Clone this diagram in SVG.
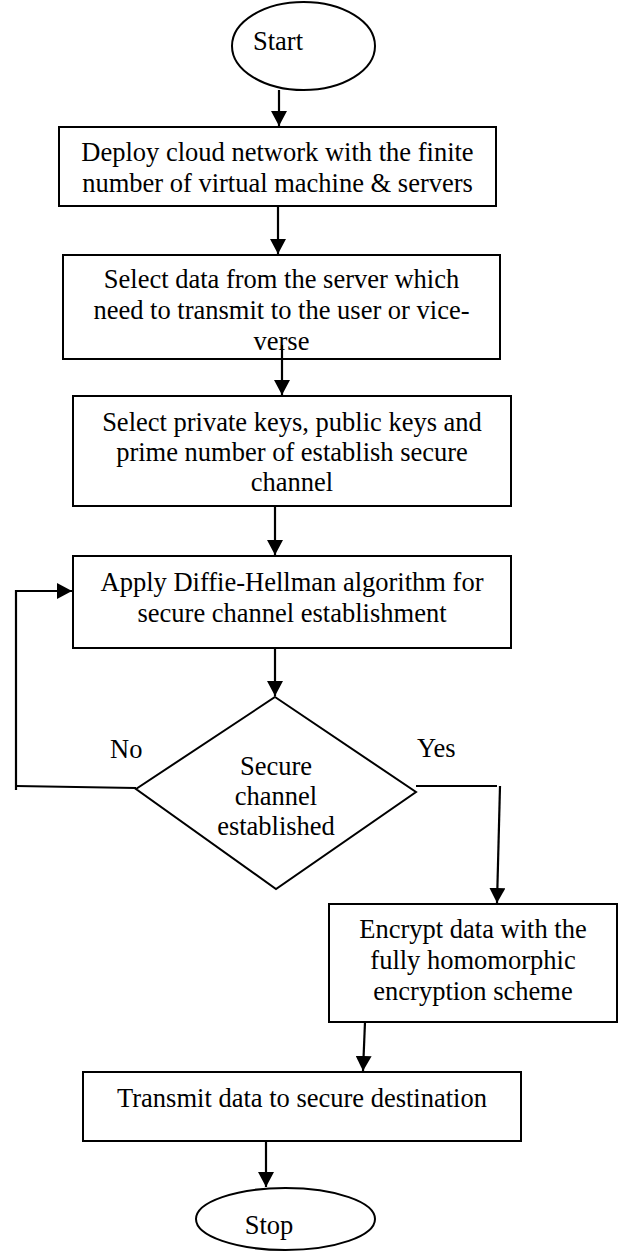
<svg xmlns="http://www.w3.org/2000/svg" width="618" height="1258" viewBox="0 0 618 1258">
  <style>
    .shape { fill: #ffffff; stroke: #000000; stroke-width: 2; }
    .txt { font-family: "Liberation Serif", "Times New Roman", serif; font-size: 26.5px; fill: #000000; text-anchor: middle; }
    .lbl { font-family: "Liberation Serif", "Times New Roman", serif; font-size: 26.5px; fill: #000000; }
    .conn { fill: none; stroke: #000000; stroke-width: 2.2; }
  </style>
  <defs>
    <marker id="arrow" viewBox="0 0 15 16" refX="15" refY="8" markerWidth="15" markerHeight="16" markerUnits="userSpaceOnUse" orient="auto">
      <path d="M0,0 L15,8 L0,16 Z" fill="#000000"/>
    </marker>
  </defs>
  <rect x="0" y="0" width="618" height="1258" fill="#ffffff"/>

  <g id="start">
    <ellipse class="shape" cx="303.5" cy="46" rx="71.5" ry="44"/>
    <text class="txt" x="278" y="50">Start</text>
  </g>

  <g id="deploy">
    <rect class="shape" x="59" y="127" width="437" height="79"/>
    <text class="txt" x="277.5" y="161">Deploy cloud network with the finite</text>
    <text class="txt" x="277.5" y="192">number of virtual machine &amp; servers</text>
  </g>

  <g id="select-data">
    <rect class="shape" x="63" y="255" width="437" height="104"/>
    <text class="txt" x="281.5" y="288">Select data from the server which</text>
    <text class="txt" x="281.5" y="319">need to transmit to the user or vice-</text>
    <text class="txt" x="281.5" y="350">verse</text>
  </g>

  <g id="select-keys">
    <rect class="shape" x="73" y="396" width="438" height="110"/>
    <text class="txt" x="292" y="431">Select private keys, public keys and</text>
    <text class="txt" x="292" y="461">prime number of establish secure</text>
    <text class="txt" x="292" y="491">channel</text>
  </g>

  <g id="diffie-hellman">
    <rect class="shape" x="73" y="556" width="438" height="92"/>
    <text class="txt" x="292" y="591">Apply Diffie-Hellman algorithm for</text>
    <text class="txt" x="292" y="622">secure channel establishment</text>
  </g>

  <g id="decision">
    <polygon class="shape" points="275,697 416,792 276,889 136,789"/>
    <text class="txt" x="276" y="775">Secure</text>
    <text class="txt" x="276" y="805">channel</text>
    <text class="txt" x="276" y="835">established</text>
  </g>

  <g id="encrypt">
    <rect class="shape" x="329" y="904" width="288" height="118"/>
    <text class="txt" x="473" y="938">Encrypt data with the</text>
    <text class="txt" x="473" y="969">fully homomorphic</text>
    <text class="txt" x="473" y="1000">encryption scheme</text>
  </g>

  <g id="transmit">
    <rect class="shape" x="83" y="1072" width="438" height="69"/>
    <text class="txt" x="302" y="1107">Transmit data to secure destination</text>
  </g>

  <g id="stop">
    <ellipse class="shape" cx="285.5" cy="1219" rx="89.5" ry="31"/>
    <text class="txt" x="269" y="1234">Stop</text>
  </g>

  <g id="connectors">
    <line class="conn" x1="279" y1="90" x2="279" y2="126" marker-end="url(#arrow)"/>
    <line class="conn" x1="278" y1="206" x2="278" y2="254" marker-end="url(#arrow)"/>
    <line class="conn" x1="282" y1="345" x2="282" y2="395" marker-end="url(#arrow)"/>
    <line class="conn" x1="275" y1="506" x2="275" y2="555" marker-end="url(#arrow)"/>
    <line class="conn" x1="275" y1="648" x2="275" y2="696" marker-end="url(#arrow)"/>
    <polyline class="conn" points="136,788 16,786"/>
    <polyline class="conn" points="16,790 16,591 72,591" marker-end="url(#arrow)"/>
    <line class="conn" x1="416" y1="786" x2="497" y2="786"/>
    <line class="conn" x1="500" y1="786" x2="497" y2="903" marker-end="url(#arrow)"/>
    <line class="conn" x1="365" y1="1022" x2="363" y2="1071" marker-end="url(#arrow)"/>
    <line class="conn" x1="266" y1="1141" x2="266" y2="1187" marker-end="url(#arrow)"/>
    <text class="lbl" x="110" y="758">No</text>
    <text class="lbl" x="417" y="757">Yes</text>
  </g>
</svg>
